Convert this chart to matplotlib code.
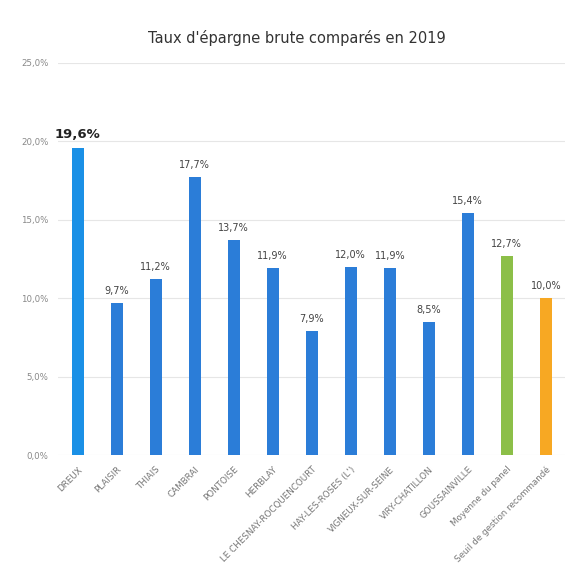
import matplotlib
matplotlib.use("Agg")
import matplotlib.pyplot as plt
import numpy as np

communes = [
    "DREUX", "PLAISIR", "THIAIS", "CAMBRAI", "PONTOISE", "HERBLAY",
    "LE CHESNAY-ROCQUENCOURT", "HAY-LES-ROSES (L')", "VIGNEUX-SUR-SEINE",
    "VIRY-CHATILLON", "GOUSSAINVILLE", "Moyenne du panel",
    "Seuil de gestion recommandé",
]
taux = [19.6, 9.7, 11.2, 17.7, 13.7, 11.9, 7.9, 12.0, 11.9, 8.5, 15.4, 12.7, 10.0]
couleurs = ["#1a90e6"] + ["#2b7dd8"] * 10 + ["#8cbf48", "#f7a823"]
y_ticks = [0, 5, 10, 15, 20, 25]

fig = plt.figure(figsize=(5.71, 5.82), dpi=100)
ax = fig.add_axes([0.102, 0.218, 0.888, 0.674])

x = np.arange(len(taux))
bars = ax.bar(x, taux, width=0.31, color=couleurs, zorder=3)

for i, (b, v) in enumerate(zip(bars, taux)):
    lab = f"{v:.1f}%".replace(".", ",")
    if i == 0:
        ax.text(b.get_x() + b.get_width() / 2, v + 0.45, lab, ha="center", va="bottom",
                fontsize=9.5, fontweight="bold", color="#222222")
    else:
        ax.text(b.get_x() + b.get_width() / 2, v + 0.45, lab, ha="center", va="bottom",
                fontsize=7, color="#444444")

ax.set_xlim(-0.5, 12.5)
ax.set_ylim(0, 25)
ax.set_yticks(y_ticks)
ax.set_yticklabels([f"{t:.1f}%".replace(".", ",") for t in y_ticks], fontsize=6.2, color="#888888")
ax.set_xticks(x)
ax.set_xticklabels(communes, rotation=45, ha="right", rotation_mode="anchor",
                   fontsize=6.3, color="#777777")
ax.tick_params(length=0, pad=7)
ax.grid(axis="y", color="#e6e6e6", linewidth=0.8, zorder=0)
for s in ax.spines.values():
    s.set_visible(False)

fig.text(0.52, 0.935, "Taux d'épargne brute comparés en 2019", ha="center", va="center",
         fontsize=10.5, fontweight="medium", color="#333333")

fig.savefig("out.png", dpi=100)
